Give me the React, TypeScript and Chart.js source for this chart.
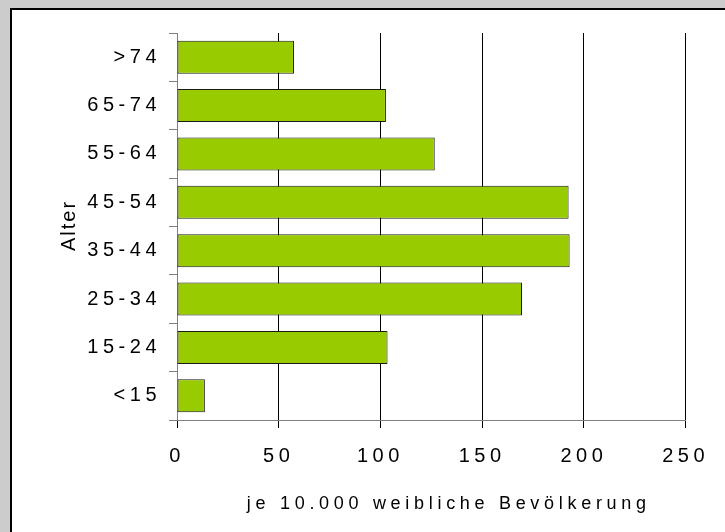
import { useEffect, useRef } from 'react';
import { Chart, registerables } from 'chart.js';

Chart.register(...registerables);

const categories = ['>74', '65-74', '55-64', '45-54', '35-44', '25-34', '15-24', '<15'];
const values = [57.5, 102.7, 126.7, 192.5, 193, 169.6, 103.5, 13.7];
const xMin = 0;
const xMax = 250;
const xStep = 50;
const xTitle = 'je 10.000 weibliche Bevölkerung';
const yTitle = 'Alter';

const FONT = 'Arial, "Liberation Sans", sans-serif';
const TICK_SPACING = '4.5px';

const spacingPlugin = {
  id: 'spacing',
  beforeLayout(chart: any) {
    chart.ctx.letterSpacing = TICK_SPACING;
  },
  beforeDraw(chart: any) {
    const { ctx, width, height } = chart;
    ctx.save();
    ctx.fillStyle = '#cccccc';
    ctx.fillRect(0, 0, width, height);
    ctx.fillStyle = '#ffffff';
    ctx.fillRect(10, 8, width, height);
    ctx.fillStyle = '#000000';
    ctx.fillRect(10, 8, 2, height);
    ctx.fillRect(10, 8, width, 2);
    ctx.restore();
    ctx.letterSpacing = TICK_SPACING;
  },
  afterDraw(chart: any) {
    const { ctx, chartArea } = chart;
    ctx.save();
    ctx.fillStyle = '#000000';
    ctx.textAlign = 'center';
    ctx.textBaseline = 'middle';
    ctx.letterSpacing = '4.7px';
    ctx.font = '18px ' + FONT;
    const cx = (chartArea.left + chartArea.right) / 2 + 17.5;
    ctx.fillText(xTitle, cx, chartArea.bottom + 84);
    ctx.letterSpacing = '2px';
    ctx.font = '20px ' + FONT;
    ctx.translate(chartArea.left - 108, (chartArea.top + chartArea.bottom) / 2);
    ctx.rotate(-Math.PI / 2);
    ctx.fillText(yTitle, 1, 0);
    ctx.restore();
  },
};

export default function App() {
  const ref = useRef<HTMLCanvasElement>(null);
  useEffect(() => {
    if (!ref.current) return;
    const chart = new Chart(ref.current, {
      type: 'bar',
      data: {
        labels: categories,
        datasets: [
          {
            data: values,
            backgroundColor: '#99cc00',
            borderColor: '#1a1a1a',
            borderWidth: 1,
            borderSkipped: false,
            barPercentage: 0.68,
            categoryPercentage: 1,
          },
        ],
      },
      options: {
        indexAxis: 'y',
        animation: false,
        responsive: false,
        devicePixelRatio: 1,
        layout: { padding: { top: 33, right: 39, left: 0, bottom: 0 } },
        plugins: { legend: { display: false }, tooltip: { enabled: false } },
        scales: {
          x: {
            min: xMin,
            max: xMax,
            ticks: {
              stepSize: xStep,
              color: '#000000',
              font: { family: FONT, size: 20 },
              padding: 16,
              maxRotation: 0,
            },
            grid: { color: '#000000', lineWidth: 1, tickLength: 8, drawTicks: true },
            border: { display: true, color: '#808080', width: 1 },
            afterFit(scale: any) {
              scale.height = 112;
            },
          },
          y: {
            ticks: {
              color: '#000000',
              font: { family: FONT, size: 20 },
              padding: 8,
            },
            grid: { drawOnChartArea: false, drawTicks: true, tickLength: 8, color: '#808080', offset: true },
            border: { display: true, color: '#808080', width: 1 },
            afterFit(scale: any) {
              scale.width = 177;
            },
          },
        },
      },
      plugins: [spacingPlugin],
    });
    return () => chart.destroy();
  }, []);
  return (
    <div style={{ position: 'fixed', left: 0, top: 0, width: 725, height: 532 }}>
      <canvas ref={ref} width={725} height={532} style={{ display: 'block' }} />
    </div>
  );
}
